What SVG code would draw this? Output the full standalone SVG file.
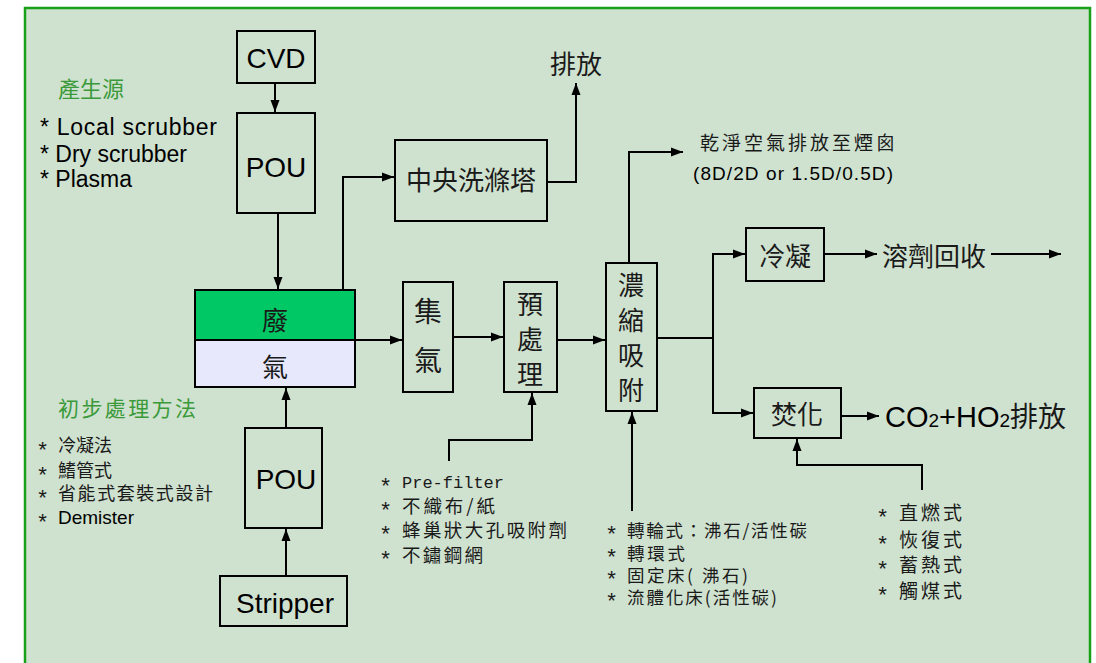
<svg xmlns="http://www.w3.org/2000/svg" width="1096" height="663" viewBox="0 0 1096 663">
<style>
.box{fill:none;stroke:#000;stroke-width:2}
.ln{fill:none;stroke:#000;stroke-width:2}
.arr{marker-end:url(#ah)}
.cj{font-family:"Noto Sans CJK TC","Noto Sans CJK SC",sans-serif;fill:#1a1a1a}
.sn{font-family:"Liberation Sans",Arial,sans-serif;fill:#000}
.mono{font-family:"Liberation Mono","Noto Sans CJK TC",monospace;fill:#1a1a1a}
.ast{font-family:"Liberation Mono",monospace;font-size:22px;fill:#1a1a1a}
.grn{fill:#3a9a3a}
.mid{text-anchor:middle}
</style>
<defs>
<marker id="ah" markerUnits="userSpaceOnUse" markerWidth="12" markerHeight="10" refX="12" refY="5" orient="auto">
<path d="M0,0.5 L12,5 L0,9.5 z" fill="#000"/>
</marker>
</defs>
<rect x="25" y="8" width="1065" height="680" fill="#cfe1cf" stroke="#19a019" stroke-width="2.5"/>

<g id="connectors">
<path class="ln arr" d="M275 83 V112"/>
<path class="ln arr" d="M278 213 V289"/>
<path class="ln arr" d="M343 290 V177 H394"/>
<path class="ln arr" d="M547 182 H576 V83"/>
<path class="ln arr" d="M355 340 H402"/>
<path class="ln arr" d="M453 337 H503"/>
<path class="ln arr" d="M557 340 H605"/>
<path class="ln arr" d="M629 263 V152 H683"/>
<path class="ln" d="M657 338 H713"/>
<path class="ln arr" d="M713 338 V254 H745"/>
<path class="ln arr" d="M713 338 V413 H753"/>
<path class="ln arr" d="M824 254 H877"/>
<path class="ln arr" d="M991 254 H1061"/>
<path class="ln arr" d="M841 416 H879"/>
<path class="ln arr" d="M922 490 V465 H797 V439"/>
<path class="ln arr" d="M632 511 V412"/>
<path class="ln arr" d="M449 461 V440 H532 V393"/>
<path class="ln arr" d="M286 428 V388"/>
<path class="ln arr" d="M286 576 V529"/>
</g>

<g id="cvd">
<rect class="box" x="237" y="31" width="78" height="52"/>
<text class="sn mid" x="276" y="68" font-size="28">CVD</text>
</g>
<g id="pou-top">
<rect class="box" x="237" y="113" width="78" height="100"/>
<text class="sn mid" x="276" y="177" font-size="28">POU</text>
</g>
<g id="waste-gas">
<rect x="195" y="290" width="160" height="50" fill="#00c864" stroke="#000" stroke-width="2"/>
<rect x="195" y="340" width="160" height="47" fill="#e8e8fc" stroke="#000" stroke-width="2"/>
<text class="cj mid" x="275" y="330" font-size="26">廢</text>
<text class="cj mid" x="275" y="377" font-size="26">氣</text>
</g>
<g id="scrubber">
<rect class="box" x="395" y="140" width="152" height="81"/>
<text class="cj mid" x="471" y="190" font-size="26">中央洗滌塔</text>
</g>
<text class="cj" x="550" y="74" font-size="26">排放</text>

<g id="collect">
<rect class="box" x="403" y="282" width="50" height="110"/>
<text class="cj mid" x="428" y="322" font-size="28">集</text>
<text class="cj mid" x="428" y="371" font-size="28">氣</text>
</g>
<g id="pretreat">
<rect class="box" x="504" y="282" width="53" height="110"/>
<text class="cj mid" x="530" y="314" font-size="26">預</text>
<text class="cj mid" x="530" y="349" font-size="26">處</text>
<text class="cj mid" x="530" y="384" font-size="26">理</text>
</g>
<g id="concentrate">
<rect class="box" x="606" y="263" width="51" height="148"/>
<text class="cj mid" x="631" y="295" font-size="26">濃</text>
<text class="cj mid" x="631" y="330" font-size="26">縮</text>
<text class="cj mid" x="631" y="365" font-size="26">吸</text>
<text class="cj mid" x="631" y="400" font-size="26">附</text>
</g>
<text class="cj" x="700" y="150" font-size="19" textLength="195" lengthAdjust="spacing">乾淨空氣排放至煙囪</text>
<text class="sn" x="693" y="180" font-size="19" textLength="200" lengthAdjust="spacing">(8D/2D or 1.5D/0.5D)</text>

<g id="condense">
<rect class="box" x="746" y="228" width="78" height="53"/>
<text class="cj mid" x="785" y="266" font-size="26">冷凝</text>
</g>
<text class="cj" x="882" y="266" font-size="26">溶劑回收</text>

<g id="incinerate">
<rect class="box" x="754" y="388" width="87" height="50"/>
<text class="cj mid" x="797" y="424" font-size="26">焚化</text>
</g>
<text class="sn" x="885" y="427" font-size="29">CO<tspan font-size="19">2</tspan>+HO<tspan font-size="19">2</tspan><tspan class="cj" font-size="28">排放</tspan></text>

<g id="pou-bottom">
<rect class="box" x="245" y="428" width="77" height="100"/>
<text class="sn mid" x="286" y="489" font-size="28">POU</text>
</g>
<g id="stripper">
<rect class="box" x="220" y="576" width="127" height="50"/>
<text class="sn mid" x="285" y="613" font-size="28">Stripper</text>
</g>

<text class="cj grn" x="58" y="97" font-size="22">產生源</text>
<text class="sn" x="40" y="135" font-size="23" textLength="177" lengthAdjust="spacing">* Local scrubber</text>
<text class="sn" x="40" y="162" font-size="23">* Dry scrubber</text>
<text class="sn" x="40" y="187" font-size="23">* Plasma</text>

<text class="cj grn" x="58" y="416" font-size="21" textLength="138" lengthAdjust="spacing">初步處理方法</text>
<g>
<text class="ast" x="36" y="458">*</text>
<text class="ast" x="36" y="483">*</text>
<text class="ast" x="36" y="506">*</text>
<text class="ast" x="36" y="530">*</text>
<text class="cj" x="58" y="452" font-size="18">冷凝法</text>
<text class="cj" x="58" y="477" font-size="18">鰭管式</text>
<text class="cj" x="58" y="500" font-size="18" textLength="155" lengthAdjust="spacing">省能式套裝式設計</text>
<text class="sn" x="58" y="524" font-size="19">Demister</text>
</g>

<g>
<text class="ast" x="379" y="494">*</text>
<text class="ast" x="379" y="518">*</text>
<text class="ast" x="379" y="542">*</text>
<text class="ast" x="379" y="567">*</text>
<text class="mono" x="402" y="488" font-size="17">Pre-filter</text>
<text class="cj" x="402" y="513" font-size="18.5" textLength="93" lengthAdjust="spacing">不織布/紙</text>
<text class="cj" x="402" y="537" font-size="18.5" textLength="165" lengthAdjust="spacing">蜂巢狀大孔吸附劑</text>
<text class="cj" x="402" y="562" font-size="18.5" textLength="81" lengthAdjust="spacing">不鏽鋼網</text>
</g>

<g>
<text class="ast" x="605" y="542">*</text>
<text class="ast" x="605" y="565">*</text>
<text class="ast" x="605" y="587">*</text>
<text class="ast" x="605" y="609">*</text>
<text class="cj" x="627" y="537" font-size="17.5" textLength="180" lengthAdjust="spacing">轉輪式：沸石/活性碳</text>
<text class="cj" x="627" y="560" font-size="17.5" textLength="58" lengthAdjust="spacing">轉環式</text>
<text class="cj" x="627" y="582" font-size="17.5" textLength="121" lengthAdjust="spacing">固定床( 沸石)</text>
<text class="cj" x="627" y="604" font-size="17.5" textLength="150" lengthAdjust="spacing">流體化床(活性碳)</text>
</g>

<g>
<text class="ast" x="876" y="525">*</text>
<text class="ast" x="876" y="552">*</text>
<text class="ast" x="876" y="577">*</text>
<text class="ast" x="876" y="603">*</text>
<text class="cj" x="899" y="520" font-size="19" textLength="63" lengthAdjust="spacing">直燃式</text>
<text class="cj" x="899" y="547" font-size="19" textLength="63" lengthAdjust="spacing">恢復式</text>
<text class="cj" x="899" y="572" font-size="19" textLength="63" lengthAdjust="spacing">蓄熱式</text>
<text class="cj" x="899" y="598" font-size="19" textLength="63" lengthAdjust="spacing">觸煤式</text>
</g>
</svg>
